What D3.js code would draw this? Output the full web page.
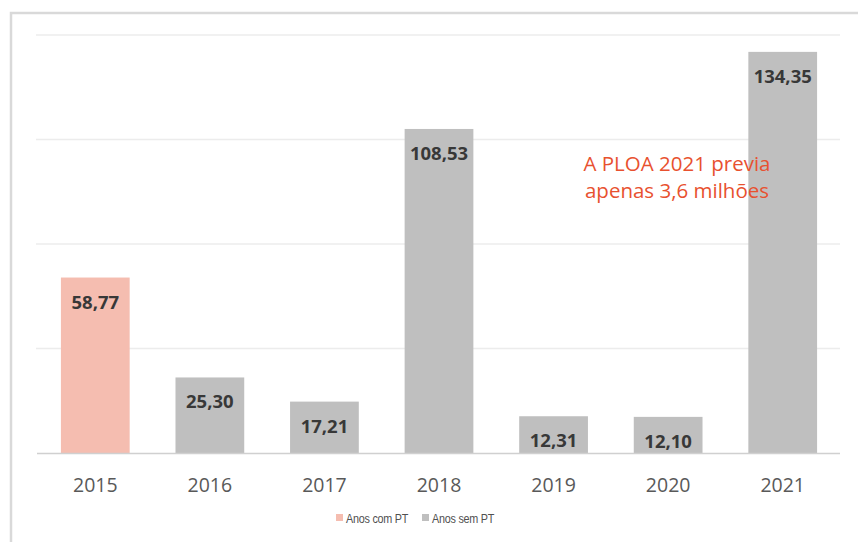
<!DOCTYPE html>
<html>
<head>
<meta charset="utf-8">
<script src="https://cdn.jsdelivr.net/npm/d3@7"></script>
<style>
  html, body { margin: 0; padding: 0; background: #fff; }
  svg { display: block; }
</style>
</head>
<body>
<div id="chart"></div>
<script>
// values (milhões)
const years = ["2015", "2016", "2017", "2018", "2019", "2020", "2021"];
const values = [58.77, 25.30, 17.21, 108.53, 12.31, 12.10, 134.35];
const groups = ["com", "sem", "sem", "sem", "sem", "sem", "sem"];
const gridTicks = [35, 70, 105, 140];
const legendLabels = ["Anos com PT", "Anos sem PT"];
const noteLines = ["A PLOA 2021 previa", "apenas 3,6 milhões"];

const width = 858, height = 542;
const colors = { com: "#F5BDB0", sem: "#BFBFBF" };

const svg = d3.select("#chart").append("svg")
    .attr("width", width)
    .attr("height", height);

// outer frame
svg.append("path")
    .attr("d", `M11,${height} V13 H${width}`)
    .attr("fill", "none")
    .attr("stroke", "#d9d9d9")
    .attr("stroke-width", 2.5);

const x = d3.scaleBand()
    .domain(years)
    .range([38, 840])
    .paddingInner(0.4)
    .paddingOuter(0.2);

const y = d3.scaleLinear()
    .domain([0, 140])
    .range([453, 35]);

// gridlines
svg.append("g")
    .selectAll("line")
    .data(gridTicks)
    .join("line")
    .attr("x1", 36).attr("x2", 840)
    .attr("y1", d => y(d)).attr("y2", d => y(d))
    .attr("stroke", "#ececec")
    .attr("stroke-width", 1.5);

const data = years.map((yr, i) => ({ year: yr, value: values[i], group: groups[i] }));

// bars
svg.append("g")
    .selectAll("rect")
    .data(data)
    .join("rect")
    .attr("x", d => x(d.year))
    .attr("y", d => y(d.value))
    .attr("width", x.bandwidth())
    .attr("height", d => y(0) - y(d.value))
    .attr("fill", d => colors[d.group]);

// baseline + year labels
const axis = svg.append("g")
    .attr("transform", `translate(0,${y(0)})`)
    .call(d3.axisBottom(x).tickSize(0).tickPadding(25));
axis.select(".domain")
    .attr("d", "M37,0.5H840")
    .attr("stroke", "#d0d0d0")
    .attr("stroke-width", 1.5);
axis.selectAll("text")
    .attr("font-family", "'Open Sans', sans-serif")
    .attr("font-size", "19.5px")
    .attr("fill", "#595959");

// value labels
svg.append("g")
    .selectAll("text")
    .data(data)
    .join("text")
    .attr("x", d => x(d.year) + x.bandwidth() / 2)
    .attr("y", d => y(d.value) + 31)
    .attr("text-anchor", "middle")
    .attr("font-family", "'Open Sans', sans-serif")
    .attr("font-weight", "bold")
    .attr("font-size", "18.5px")
    .attr("fill", "#383838")
    .text(d => d3.format(".2f")(d.value).replace(".", ","));

// annotation
svg.append("text")
    .attr("x", 677)
    .attr("y", 171)
    .attr("text-anchor", "middle")
    .attr("font-family", "'Open Sans', sans-serif")
    .attr("font-size", "20.5px")
    .attr("fill", "#E8512F")
    .selectAll("tspan")
    .data(noteLines)
    .join("tspan")
    .attr("x", 677)
    .attr("dy", (d, i) => i === 0 ? 0 : 27)
    .text(d => d);

// legend (narrow font faked with a horizontal squeeze)
const legend = svg.append("g")
    .attr("font-family", "'Liberation Sans', Arial, sans-serif")
    .attr("font-size", "13.5px")
    .attr("fill", "#505050");
const legendX = [336, 422];
legendLabels.forEach((lbl, i) => {
  legend.append("rect")
      .attr("x", legendX[i]).attr("y", 514)
      .attr("width", 7).attr("height", 7)
      .attr("fill", colors[i === 0 ? "com" : "sem"]);
  legend.append("text")
      .attr("transform", `translate(${legendX[i] + 10},522.5) scale(0.8,1)`)
      .attr("letter-spacing", "-0.3")
      .text(lbl);
});
</script>
</body>
</html>
